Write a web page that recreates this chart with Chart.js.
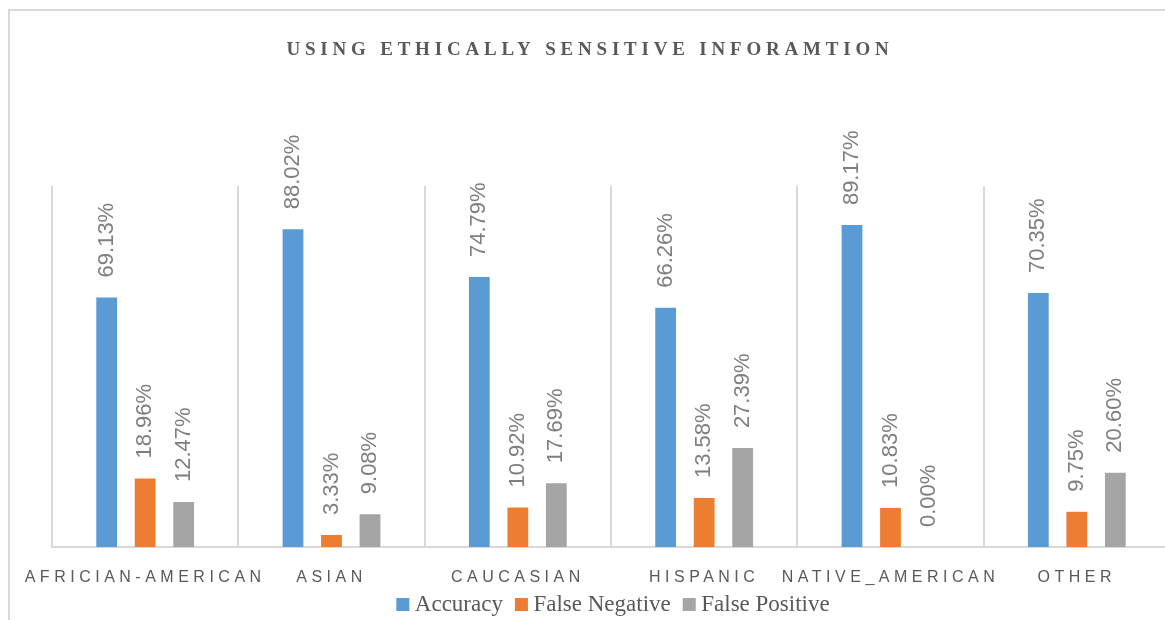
<!DOCTYPE html>
<html>
<head>
<meta charset="utf-8">
<title>Using ethically sensitive information</title>
<script src="https://cdn.jsdelivr.net/npm/chart.js@4.4.1/dist/chart.umd.min.js"></script>
<style>
    html, body { margin: 0; padding: 0; background: #fff; overflow: hidden; }
    #marco {
        position: absolute; left: 8px; top: 9px;
        width: 1190px; height: 640px;
        border: 2px solid #d9d9d9;
    }
</style>
</head>
<body>
<div id="marco">
    <canvas id="grafico" width="1165" height="615"></canvas>
</div>
<script>
var categorias = ["AFRICIAN-AMERICAN", "ASIAN", "CAUCASIAN", "HISPANIC", "NATIVE_AMERICAN", "OTHER"];
var accuracy = [69.13, 88.02, 74.79, 66.26, 89.17, 70.35];
var falseNegative = [18.96, 3.33, 10.92, 13.58, 10.83, 9.75];
var falsePositive = [12.47, 9.08, 17.69, 27.39, 0.00, 20.60];

// canvas has no letter-spacing option in Chart.js, so wrap the draw calls that need it
function conEspacio(obj, metodo, espacio) {
    if (!obj || obj["_esp_" + metodo]) return;
    var original = obj[metodo];
    obj[metodo] = function () {
        this.ctx.letterSpacing = espacio;
        original.apply(this, arguments);
        this.ctx.letterSpacing = "0px";
    };
    obj["_esp_" + metodo] = true;
}

var ajustes = {
    id: "ajustes",
    afterLayout: function (chart) {
        // legend sits a bit right of the title in the original
        chart.legend.left += 26;
        chart.legend.right += 26;
    },
    beforeDraw: function (chart) {
        conEspacio(chart.titleBlock, "draw", "4.8px");
        conEspacio(chart.scales.x, "drawLabels", "4.5px");
        // the axis box is kept short, so do not clip its labels to it
        chart.scales.x._computeLabelArea = function () { return undefined; };
    }
};

// rotated value labels above each bar
var etiquetas = {
    id: "etiquetas",
    afterDatasetsDraw: function (chart) {
        var ctx = chart.ctx;
        ctx.save();
        ctx.font = '22px "Liberation Sans"';
        ctx.fillStyle = "#7f7f7f";
        ctx.textAlign = "left";
        ctx.textBaseline = "middle";
        chart.data.datasets.forEach(function (ds, i) {
            chart.getDatasetMeta(i).data.forEach(function (barra, j) {
                ctx.save();
                ctx.translate(barra.x, barra.y - 20);
                ctx.rotate(-Math.PI / 2);
                ctx.fillText(ds.data[j].toFixed(2) + "%", 0, 0);
                ctx.restore();
            });
        });
        ctx.restore();
    }
};

var datos = {
    labels: categorias,
    datasets: [
        { label: "Accuracy", data: accuracy, backgroundColor: "#5b9bd5", borderWidth: 0 },
        { label: "False Negative", data: falseNegative, backgroundColor: "#ed7d31", borderWidth: 0 },
        { label: "False Positive", data: falsePositive, backgroundColor: "#a5a5a5", borderWidth: 0 }
    ]
};

var opciones = {
    responsive: false,
    animation: false,
    categoryPercentage: 0.62,
    barPercentage: 0.54,
    layout: { padding: { left: 0, right: 5, top: 0, bottom: 0 } },
    plugins: {
        title: {
            display: true,
            text: "USING ETHICALLY SENSITIVE INFORAMTION",
            color: "#595959",
            font: { family: "Liberation Serif", size: 19, weight: "bold" },
            padding: { top: 27.4, bottom: 124.8 }
        },
        legend: {
            position: "bottom",
            labels: {
                color: "#595959",
                font: { family: "Liberation Serif", size: 23 },
                usePointStyle: true,
                pointStyle: "rect",
                boxWidth: 1,
                boxHeight: 13,
                padding: 18
            }
        },
        tooltip: { enabled: false }
    },
    scales: {
        x: {
            grid: { color: "#d9d9d9", lineWidth: 2, drawTicks: false, offset: true },
            border: { color: "#d9d9d9", width: 2 },
            ticks: {
                color: "#595959",
                font: { family: "Liberation Sans", size: 16 },
                padding: 21,
                autoSkip: false,
                maxRotation: 0
            },
            afterFit: function (escala) { escala.height = 28; }
        },
        y: {
            min: 0,
            max: 100,
            ticks: { display: false },
            grid: { display: false },
            border: { display: false },
            afterFit: function (escala) { escala.width = 42; }
        }
    }
};

var grafico = new Chart(document.getElementById("grafico"), {
    type: "bar",
    data: datos,
    options: opciones,
    plugins: [ajustes, etiquetas]
});
</script>
</body>
</html>
